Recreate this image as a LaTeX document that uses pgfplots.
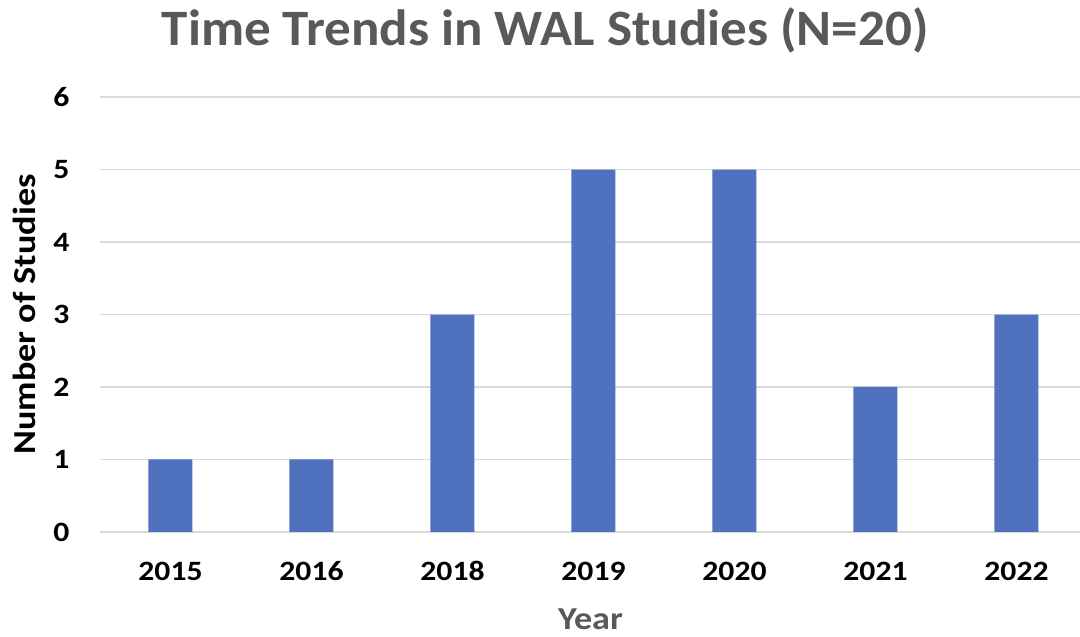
\documentclass[border=0pt]{standalone}
\usepackage{pgfplots}
\pgfplotsset{compat=1.18}
\usepackage{fontspec}
\setmainfont{Carlito}
\newfontfamily\axisfont[FakeStretch=1.13]{Carlito}
\newfontfamily\titlefont[FakeStretch=1.04]{Carlito}
\definecolor{barblue}{HTML}{4F71BE}
\definecolor{titlegray}{HTML}{595959}
\definecolor{gridgray}{HTML}{D9D9D9}
\begin{document}
\begin{tikzpicture}
\path[use as bounding box] (-100pt,-105pt) rectangle (980pt,532pt);
\begin{axis}[
  at={(0,0)}, anchor=south west,
  scale only axis,
  width=987pt, height=435pt,
  xmin=-0.5, xmax=6.5,
  ymin=0, ymax=6,
  ytick={0,1,2,3,4,5,6},
  xtick={0,1,2,3,4,5,6},
  xticklabels={2015,2016,2018,2019,2020,2021,2022},
  axis line style={draw=none},
  major tick length=0pt,
  ymajorgrids,
  grid style={gridgray, line width=1.2pt},
  /pgf/number format/assume math mode=true,
  ticklabel style={font=\axisfont\fontsize{28}{32}\selectfont\bfseries, text=black},
  yticklabel style={xshift=-27pt},
  xticklabel style={anchor=base, yshift=-49pt},
  xlabel={Year},
  xlabel style={font=\axisfont\fontsize{32}{36}\selectfont\bfseries, text=titlegray, at={(axis description cs:0.497,0)}, anchor=base, yshift=-98pt},
  ylabel={Number of Studies},
  ylabel style={font=\axisfont\fontsize{32}{36}\selectfont\bfseries, text=black, at={(axis description cs:-0.0765,0.5)}, anchor=center},
  title={Time Trends in WAL Studies (N=20)},
  title style={font=\titlefont\fontsize{51}{56}\selectfont\bfseries, text=titlegray, at={(axis description cs:0.451,1)}, anchor=base, yshift=46pt},
  clip=false,
]
\addplot[ybar, bar width=44pt, fill=barblue, draw=none] coordinates {
  (0,1) (1,1) (2,3) (3,5) (4,5) (5,2) (6,3)
};
\end{axis}
\end{tikzpicture}
\end{document}
